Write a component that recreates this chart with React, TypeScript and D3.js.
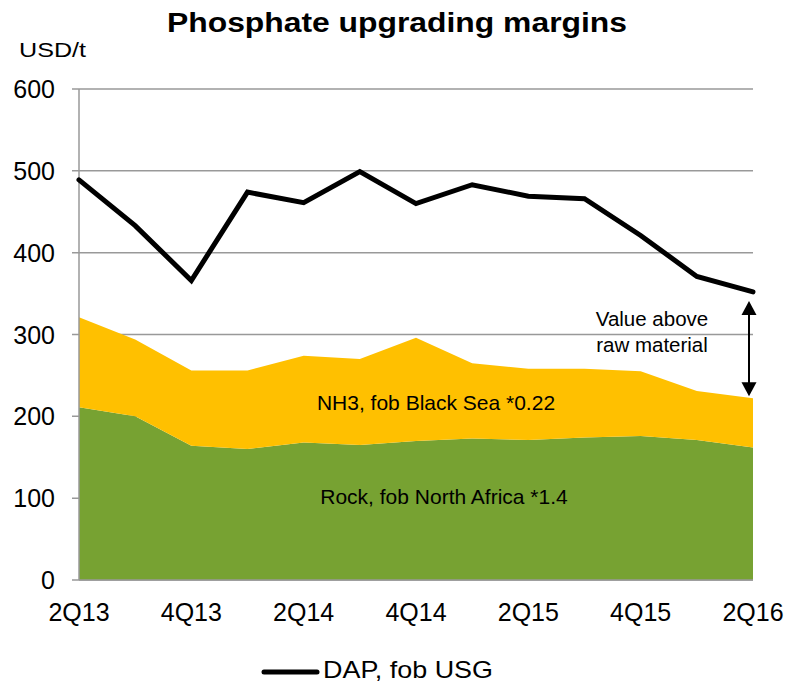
import React from "react";
import * as d3 from "d3";

const quarters = ["2Q13","3Q13","4Q13","1Q14","2Q14","3Q14","4Q14","1Q15","2Q15","3Q15","4Q15","1Q16","2Q16"];
const rock = [211, 200, 164, 160, 168, 165, 170, 173, 171, 174, 176, 171, 162];
const nh3 = [110, 94, 92, 96, 106, 105, 126, 92, 87, 84, 79, 60, 60];
const dap = [489, 433, 366, 474, 461, 499, 460, 483, 469, 466, 421, 371, 352];
const yTicks = [0, 100, 200, 300, 400, 500, 600];
const xTickLabels = ["2Q13","4Q13","2Q14","4Q14","2Q15","4Q15","2Q16"];

const W = 790, H = 684;
const left = 79, right = 753, top = 89, bottom = 580;
const FONT = "Liberation Sans, Arial, sans-serif";

export default function App() {
  const x = d3.scalePoint<string>().domain(quarters).range([left, right]);
  const y = d3.scaleLinear().domain([0, 600]).range([bottom, top]);
  const idx = quarters.map((_, i) => i);
  const rockArea = d3.area<number>().x(i => x(quarters[i])!).y0(y(0)).y1(i => y(rock[i]));
  const nh3Area = d3.area<number>().x(i => x(quarters[i])!).y0(i => y(rock[i])).y1(i => y(rock[i] + nh3[i]));
  const dapLine = d3.line<number>().x(i => x(quarters[i])!).y(i => y(dap[i]));
  const last = quarters.length - 1;
  const ax = x(quarters[last])! - 4;
  const aTop = y(dap[last]) + 9;
  const aBot = y(rock[last] + nh3[last]) - 2;
  return (
    <svg width={W} height={H} style={{ position: "absolute", left: 0, top: 0, background: "#fff" }} fontFamily={FONT}>
      <text x={397} y={32} textAnchor="middle" fontWeight="bold" fontSize={27} textLength={460} lengthAdjust="spacingAndGlyphs">Phosphate upgrading margins</text>
      <text x={19} y={57} fontSize={21} textLength={67} lengthAdjust="spacingAndGlyphs">USD/t</text>
      {yTicks.map(t => (
        <g key={t}>
          <line x1={left - 7} x2={right} y1={y(t)} y2={y(t)} stroke="#999" strokeWidth={1.5} />
          <text x={55} y={y(t) + 9} textAnchor="end" fontSize={25}>{t}</text>
        </g>
      ))}
      <path d={rockArea(idx)!} fill="#77A232" />
      <path d={nh3Area(idx)!} fill="#FFC000" />
      <line x1={left} x2={left} y1={top} y2={bottom} stroke="#999" strokeWidth={1.5} />
      <line x1={left} x2={right} y1={bottom} y2={bottom} stroke="#999" strokeWidth={1.5} />
      <path d={dapLine(idx)!} fill="none" stroke="#000" strokeWidth={5} strokeLinejoin="miter" strokeLinecap="round" />
      {xTickLabels.map(q => (
        <text key={q} x={x(q)} y={621} textAnchor="middle" fontSize={25}>{q}</text>
      ))}
      <text x={436} y={410} textAnchor="middle" fontSize={21}>NH3, fob Black Sea *0.22</text>
      <text x={444} y={504} textAnchor="middle" fontSize={21}>Rock, fob North Africa *1.4</text>
      <text x={652} y={326} textAnchor="middle" fontSize={20.5}>Value above</text>
      <text x={652} y={352} textAnchor="middle" fontSize={20.5}>raw material</text>
      <line x1={ax} x2={ax} y1={aTop + 10} y2={aBot - 10} stroke="#000" strokeWidth={2} />
      <path d={`M${ax},${aTop} L${ax - 7.5},${aTop + 14} L${ax + 7.5},${aTop + 14} Z`} fill="#000" />
      <path d={`M${ax},${aBot} L${ax - 7.5},${aBot - 14} L${ax + 7.5},${aBot - 14} Z`} fill="#000" />
      <line x1={264} x2={317} y1={672} y2={672} stroke="#000" strokeWidth={5} strokeLinecap="round" />
      <text x={323} y={678} fontSize={24} textLength={170} lengthAdjust="spacingAndGlyphs">DAP, fob USG</text>
    </svg>
  );
}
